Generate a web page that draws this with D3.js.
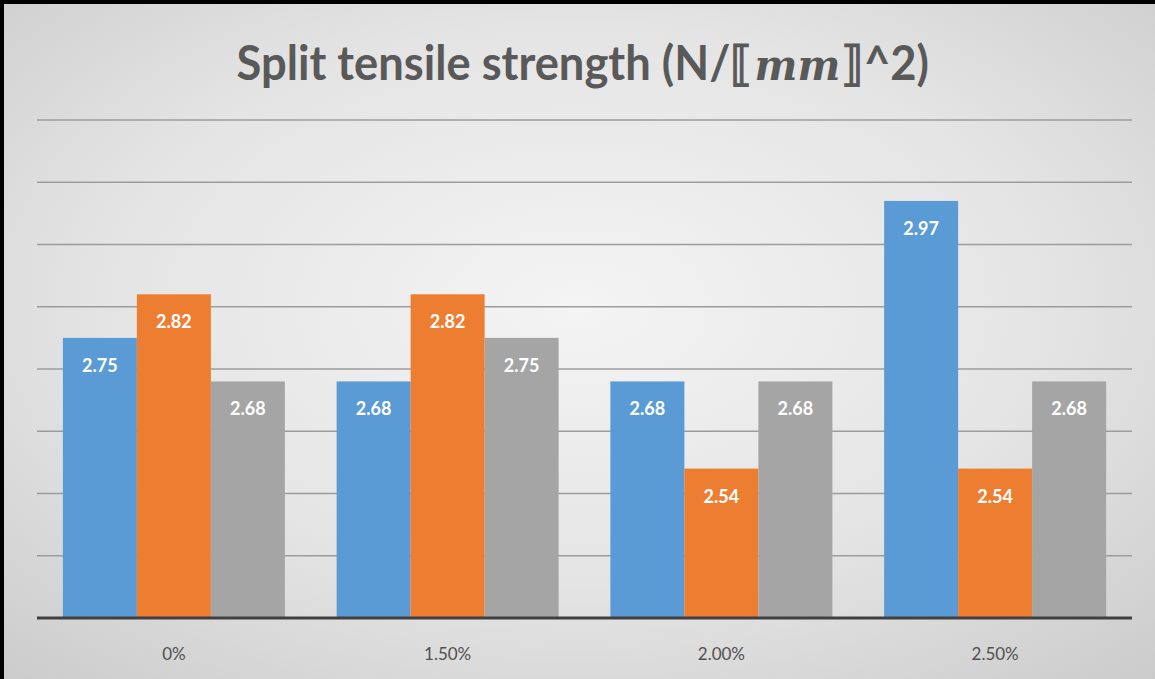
<!DOCTYPE html>
<html>
<head>
<meta charset="utf-8">
<script src="https://cdn.jsdelivr.net/npm/d3@7"></script>
<style>
  html, body { margin: 0; padding: 0; background: #fff; }
  svg { display: block; }
</style>
</head>
<body>
<div id="chart"></div>
<script>
// Split tensile strength for each fibre dosage, three specimens per dosage
const categories = ["0%", "1.50%", "2.00%", "2.50%"];
const seriesNames = ["Specimen 1", "Specimen 2", "Specimen 3"];
const specimen1 = [2.75, 2.68, 2.68, 2.97];
const specimen2 = [2.82, 2.82, 2.54, 2.54];
const specimen3 = [2.68, 2.75, 2.68, 2.68];
const seriesColors = ["#5b9bd5", "#ed7d31", "#a5a5a5"];
const yDomain = [2.3, 3.1];
const gridValues = [2.4, 2.5, 2.6, 2.7, 2.8, 2.9, 3.0, 3.1];
const titleParts = ["Split tensile strength (N/\u27E6", "mm", "\u27E7^2)"];

const seriesValues = [specimen1, specimen2, specimen3];

const W = 1155, H = 679;
const plot = { left: 37, right: 1132, top: 120, bottom: 618 };

const svg = d3.select("#chart").append("svg")
  .attr("width", W).attr("height", H);

// background: soft radial gradient
const defs = svg.append("defs");
const grad = defs.append("radialGradient")
  .attr("id", "bg").attr("cx", "50%").attr("cy", "45%").attr("r", "75%");
grad.append("stop").attr("offset", "0%").attr("stop-color", "#f4f4f4");
grad.append("stop").attr("offset", "55%").attr("stop-color", "#e4e4e4");
grad.append("stop").attr("offset", "100%").attr("stop-color", "#cbcbcb");

svg.append("rect").attr("x", 0).attr("y", 0).attr("width", W).attr("height", H)
  .attr("fill", "url(#bg)");

// frame on top and left edges
svg.append("rect").attr("x", 0).attr("y", 0).attr("width", W).attr("height", 4).attr("fill", "#000");
svg.append("rect").attr("x", 0).attr("y", 0).attr("width", 4).attr("height", H).attr("fill", "#000");

const x0 = d3.scaleBand()
  .domain(categories)
  .range([plot.left, plot.right])
  .paddingInner(0.189)
  .paddingOuter(0.0945);

const x1 = d3.scaleBand()
  .domain(d3.range(seriesNames.length))
  .range([0, x0.bandwidth()])
  .padding(0);

const y = d3.scaleLinear().domain(yDomain).range([plot.bottom, plot.top]);

// horizontal gridlines
svg.append("g").selectAll("line")
  .data(gridValues)
  .join("line")
  .attr("x1", plot.left).attr("x2", plot.right)
  .attr("y1", d => y(d)).attr("y2", d => y(d))
  .attr("stroke", "#9c9c9c").attr("stroke-width", 1.3);

// bars
const rows = categories.map((c, i) => ({
  cat: c,
  vals: seriesValues.map((s, k) => ({ k, v: s[i] }))
}));

const groups = svg.append("g").selectAll("g")
  .data(rows)
  .join("g")
  .attr("transform", d => `translate(${x0(d.cat)},0)`);

groups.selectAll("rect")
  .data(d => d.vals)
  .join("rect")
  .attr("x", d => x1(d.k))
  .attr("y", d => y(d.v))
  .attr("width", x1.bandwidth())
  .attr("height", d => y(yDomain[0]) - y(d.v))
  .attr("fill", d => seriesColors[d.k]);

// value labels inside the bar tops
groups.selectAll("text")
  .data(d => d.vals)
  .join("text")
  .attr("x", d => x1(d.k) + x1.bandwidth() / 2)
  .attr("y", d => y(d.v) + 34)
  .attr("text-anchor", "middle")
  .attr("font-family", "Lato, 'Open Sans', sans-serif")
  .attr("font-weight", "bold")
  .attr("font-size", 18)
  .attr("fill", "#ffffff")
  .text(d => d.v.toFixed(2));

// category axis
const xAxis = svg.append("g")
  .attr("transform", `translate(0,${plot.bottom})`)
  .call(d3.axisBottom(x0).tickSize(0).tickPadding(30));
xAxis.select(".domain")
  .attr("stroke", "#404040").attr("stroke-width", 3)
  .attr("d", `M${plot.left},0H${plot.right}`);
xAxis.selectAll("text")
  .attr("font-family", "Lato, 'Open Sans', sans-serif")
  .attr("font-size", 17)
  .attr("fill", "#505050");

// title: three pieces laid end to end, then squeezed to the target width
const titleG = svg.append("g");
const partStyles = [
  { family: "Lato, 'Open Sans', sans-serif", style: "normal" },
  { family: "'DejaVu Serif', 'Liberation Serif', serif", style: "italic" },
  { family: "Lato, 'Open Sans', sans-serif", style: "normal" }
];
let cursor = 0;
titleParts.forEach((t, i) => {
  const el = titleG.append("text")
    .attr("x", cursor)
    .attr("y", 0)
    .attr("font-family", partStyles[i].family)
    .attr("font-style", partStyles[i].style)
    .attr("font-weight", "bold")
    .attr("font-size", i === 1 ? 42 : 47)
    .attr("fill", "#595959")
    .text(t);
  cursor += el.node().getComputedTextLength() + (i === 0 ? 2 : 1);
});
const titleWidth = 693;
const sx = titleWidth / cursor;
titleG.attr("transform", `translate(${583 - titleWidth / 2},80) scale(${sx},1)`);
</script>
</body>
</html>
